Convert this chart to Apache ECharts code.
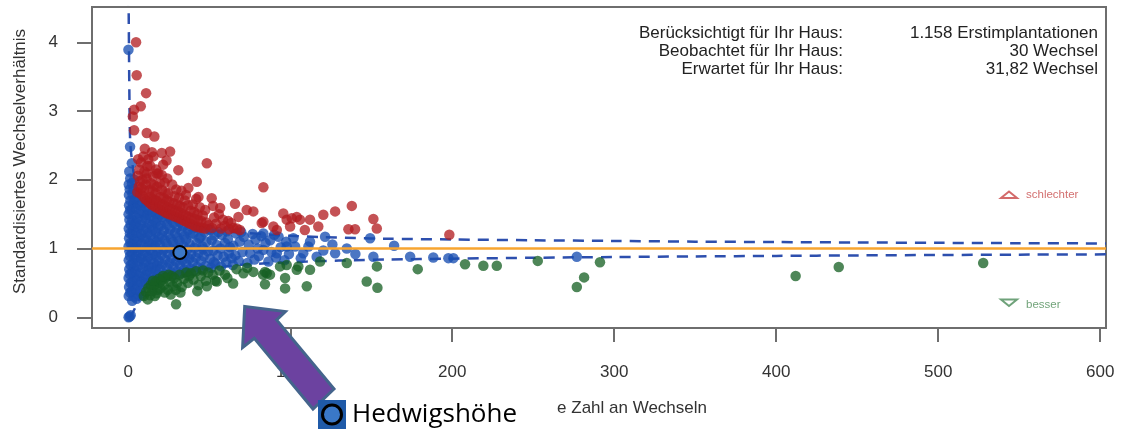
<!DOCTYPE html>
<html><head><meta charset="utf-8">
<script src="https://cdn.jsdelivr.net/npm/echarts@6/dist/echarts.min.js"></script>
<style>html,body{margin:0;padding:0;background:#fff}#c{width:1121px;height:432px}</style>
</head><body><div id="c"></div>
<script>
const xTicks = [0, 100, 200, 300, 400, 500, 600];
const yTicks = [0, 1, 2, 3, 4];
const xTitleVisible = 'e Zahl an Wechseln';
const yTitle = 'Standardisiertes Wechselverhältnis';
const infoLabels = ['Berücksichtigt für Ihr Haus:', 'Beobachtet für Ihr Haus:', 'Erwartet für Ihr Haus:'];
const infoValues = ['1.158 Erstimplantationen', '30 Wechsel', '31,82 Wechsel'];
const legendWorse = 'schlechter';
const legendBetter = 'besser';
const hospitalName = 'Hedwigshöhe';
const hospitalPoint = [[31.82, 0.943]];
const referenceValue = 1;

const upperLimit = [[0.15,4.7],[0.3,4.3],[0.5,3.7],[0.7,3.2],[0.9,2.8],[1.2,2.55],[1.6,2.42],[2.2,2.3],[3,2.15],[4,2.0],[5,1.88],[6.5,1.8],[8,1.73],[10,1.66],[13,1.6],[16,1.56],[20,1.51],[25,1.48],[30,1.45],[35,1.41],[40,1.36],[45,1.31],[50,1.28],[60,1.25],[70,1.23],[85,1.205],[100,1.185],[120,1.165],[140,1.152],[160,1.142],[200,1.132],[250,1.12],[300,1.11],[350,1.1],[400,1.094],[450,1.088],[500,1.083],[550,1.078],[603.6,1.074]];
const lowerLimit = [[0.3,0],[1.5,0.02],[3,0.08],[4.5,0.15],[6,0.22],[7.5,0.3],[9,0.36],[11,0.44],[13,0.49],[16,0.53],[20,0.57],[25,0.61],[30,0.64],[40,0.68],[50,0.71],[60,0.74],[70,0.765],[85,0.785],[100,0.8],[120,0.818],[140,0.83],[160,0.84],[200,0.852],[250,0.866],[300,0.876],[350,0.885],[400,0.893],[450,0.9],[500,0.906],[550,0.911],[603.6,0.915]];

const bluePoints = [
[0.2,0],[0.8,0.01],[1.5,0.03],[0.3,0.31],[1.2,0.36],[0.5,0.44],[1.4,0.5],[0.2,0.57],[1.0,0.63],[0.6,0.7],[1.5,0.76],[0.3,0.83],[1.1,0.89],[0.7,0.96],[0.2,1.03],[1.3,1.08],[0.5,1.15],[1.0,1.22],[0.3,1.29],[1.4,1.35],[0.7,1.42],[0.2,1.5],[1.1,1.56],[0.5,1.63],[1.3,1.7],[0.4,1.78],[0.9,1.86],[0.3,1.93],[1.2,2.02],[2.2,2.24],[1.1,2.48],[0.1,3.89],[0.6,2.12],
[2.4,0.24],[3.5,0.3],[2.1,0.38],[3.2,0.45],[2.7,0.52],[3.8,0.58],[2.3,0.65],[3.4,0.72],[2.8,0.79],[3.9,0.86],[2.2,0.93],[3.3,1.0],[2.6,1.07],[3.7,1.14],[2.4,1.21],[3.1,1.28],[3.9,1.35],[2.5,1.42],[3.4,1.49],[2.2,1.57],[3.0,1.64],[3.8,1.71],[2.6,1.79],[3.3,1.87],[2.3,1.95],[3.6,2.0],
[5.2,0.27],[6.5,0.33],[4.8,0.4],[6.0,0.47],[5.5,0.54],[6.8,0.6],[4.7,0.67],[5.9,0.74],[6.6,0.81],[5.1,0.88],[6.2,0.95],[4.9,1.02],[5.7,1.09],[6.9,1.16],[5.3,1.23],[6.4,1.3],[4.8,1.37],[5.8,1.44],[6.7,1.51],[5.0,1.58],[6.1,1.65],[4.6,1.73],[5.5,1.8],
[8.6,0.32],[7.6,0.39],[9.3,0.45],[8.2,0.52],[9.8,0.58],[7.8,0.65],[8.9,0.72],[9.6,0.79],[8.0,0.86],[9.1,0.93],[7.7,1.0],[8.5,1.07],[9.7,1.14],[8.1,1.21],[9.2,1.28],[7.9,1.35],[8.8,1.42],[9.9,1.49],[8.3,1.56],[7.6,1.63],[9.0,1.67],
[11.2,0.5],[12.6,0.55],[10.7,0.61],[11.9,0.68],[12.8,0.74],[11.0,0.81],[12.2,0.88],[10.6,0.95],[11.6,1.02],[12.9,1.08],[10.9,1.15],[12.0,1.22],[11.4,1.29],[12.7,1.36],[10.8,1.43],[11.8,1.5],[12.5,1.56],[11.1,1.61],
[14.5,0.53],[15.6,0.59],[13.8,0.65],[14.9,0.72],[15.9,0.79],[14.2,0.85],[15.3,0.92],[13.7,0.99],[14.8,1.06],[15.8,1.13],[14.0,1.2],[15.1,1.27],[14.6,1.34],[15.7,1.41],[13.9,1.48],[15.0,1.54],
[17.4,0.56],[18.6,0.62],[16.8,0.68],[17.9,0.75],[18.9,0.82],[17.1,0.89],[18.3,0.96],[16.6,1.03],[17.7,1.1],[18.8,1.17],[17.2,1.24],[18.4,1.31],[16.9,1.38],[18.0,1.45],[17.5,1.51],
[20.4,0.58],[22.1,0.63],[19.8,0.7],[21.3,0.77],[22.7,0.84],[20.6,0.91],[21.8,0.98],[19.7,1.05],[22.4,1.12],[20.9,1.19],[21.9,1.26],[20.2,1.33],[22.6,1.4],[21.2,1.46],[20.0,1.5],
[24.3,0.6],[26.2,0.66],[23.9,0.72],[25.4,0.79],[26.7,0.86],[24.6,0.93],[25.8,1.0],[23.7,1.07],[26.4,1.14],[24.9,1.21],[25.9,1.28],[24.1,1.35],[26.5,1.42],[25.1,1.47],
[28.4,0.62],[30.1,0.67],[27.8,0.74],[29.5,0.81],[30.7,0.88],[28.6,0.95],[29.8,1.02],[27.7,1.09],[30.4,1.16],[28.9,1.23],[29.9,1.3],[28.1,1.37],[30.5,1.43],
[32.6,0.64],[34.4,0.69],[31.9,0.76],[33.5,0.83],[34.8,0.9],[32.3,0.97],[33.9,1.04],[31.7,1.11],[34.6,1.18],[32.9,1.25],[33.8,1.32],[32.2,1.38],
[36.4,0.66],[38.3,0.71],[35.8,0.78],[37.5,0.85],[38.8,0.92],[36.6,0.99],[37.9,1.06],[35.7,1.13],[38.4,1.2],[36.9,1.27],[37.8,1.33],
[40.5,0.68],[42.6,0.73],[39.9,0.8],[41.7,0.87],[43.4,0.94],[40.8,1.01],[42.2,1.08],[43.8,1.15],[40.2,1.22],[42.9,1.29],[41.4,1.31],
[45.5,0.7],[47.8,0.75],[44.9,0.82],[46.6,0.89],[49.2,0.96],[45.8,1.03],[48.3,1.1],[44.7,1.17],[47.1,1.24],[49.5,1.28],[46.2,0.99],
[51.2,0.72],[53.8,0.78],[50.6,0.85],[55.1,0.9],[52.4,0.97],[54.6,1.05],[51.5,1.12],[53.2,1.19],[55.6,1.24],[50.9,1.27],[52.8,0.8],
[57.3,0.74],[60.4,0.8],[58.8,0.88],[62.1,0.93],[56.9,1.0],[59.7,1.08],[61.5,1.14],[57.8,1.2],[60.9,1.25],[62.7,1.02],
[64.6,0.76],[68.2,0.82],[66.1,0.9],[70.5,0.95],[64.9,1.04],[68.8,1.1],[71.3,1.17],[66.4,1.22],[69.7,1.24],[63.8,0.86],
[73.5,0.79],[77.9,0.84],[75.2,0.93],[80.6,0.89],[83.4,0.98],[74.3,1.06],[78.6,1.13],[82.1,1.18],[76.8,1.21],[84.7,1.08],[79.9,1.0],[83.4,1.22],
[86.5,0.81],[91.2,0.87],[96.4,0.83],[88.3,0.95],[94.1,1.02],[99.2,0.92],[87.6,1.12],[92.8,1.17],[97.5,1.1],[90.1,1.2],[91.7,0.93],[97.8,1.03],
[101.9,1.15],[111.2,1.03],[112.2,1.1],[103,1.03],[108,0.93],[127.7,0.93],[120.4,0.97],[121.5,1.17],[134.9,1.0],[149.3,1.15],[151.3,0.88],[106.5,0.86],[116.3,0.88],[140.2,0.92],[126,1.06],[164.1,1.04],
[174,0.88],[188.3,0.87],[197.6,0.86],[200.7,0.86],[276.9,0.88]
];

const redPoints = [
[4.8,4.0],[5.2,3.52],[11,3.26],[7.7,3.07],[3.6,3.02],[2.8,2.92],[3.6,2.72],[11.4,2.68],[16.1,2.63],[20.7,2.39],[25.8,2.41],[9.3,2.34],[15.5,2.34],[48.5,2.24],[30.9,2.14],[18.6,2.09],[20.7,2.07],[83.4,1.89],[42.3,1.97],[37.1,1.88],[43.3,1.75],[51.5,1.73],[65.9,1.65],[138,1.62],[127.7,1.54],[120.4,1.49],[95.7,1.51],[100.9,1.44],[106,1.42],[83.4,1.39],[151.3,1.43],[153.4,1.29],[135.9,1.28],[140,1.28],[198.2,1.2],[56.7,1.59],[73.1,1.56],[77.2,1.54],[82.4,1.37],[89.6,1.32],[67,1.29],[97.8,1.42],[68,1.46],[109,1.27],[117.3,1.32],[99.9,1.32],[91.7,1.27],[112.2,1.42],[104,1.46],[11.4,2.09],[17.6,2.09],
[5.6,1.82],[6.4,1.9],[7.2,1.98],[5.9,2.06],[7.5,1.8],[6.8,2.15],[7.9,2.25],[6.1,2.3],[8.3,1.88],
[9.1,1.76],[10.4,1.72],[11.6,1.7],[9.6,1.85],[10.9,1.93],[8.8,2.0],[11.3,2.02],[9.9,2.12],[11.8,2.2],[10.2,2.45],[12.3,2.3],
[12.9,1.67],[14.2,1.64],[15.6,1.62],[17.1,1.6],[13.5,1.75],[14.9,1.72],[16.3,1.71],[17.6,1.69],[13.2,1.85],[15.1,1.83],[16.9,1.8],[14.0,1.95],[16.0,1.92],[17.8,1.9],[15.3,2.05],[13.6,2.2],[17.2,2.15],[14.6,2.4],
[18.7,1.58],[20.2,1.56],[21.8,1.54],[23.3,1.52],[24.9,1.5],[19.3,1.66],[21.1,1.64],[22.7,1.62],[24.3,1.6],[25.8,1.58],[19.9,1.75],[22.1,1.73],[23.9,1.7],[25.4,1.68],[20.8,1.85],[23.0,1.82],[24.7,1.8],[19.5,1.95],[22.4,1.96],[21.5,2.22],[24.1,2.02],[23.6,2.28],
[26.6,1.49],[28.2,1.47],[29.8,1.46],[31.4,1.44],[33.1,1.42],[34.7,1.4],[27.3,1.57],[29.1,1.55],[30.8,1.54],[32.5,1.52],[34.2,1.5],[35.8,1.48],[27.9,1.66],[30.2,1.64],[32.0,1.62],[33.8,1.6],[28.6,1.76],[31.3,1.74],[34.9,1.7],[29.6,1.86],[32.8,1.84],[27.1,1.93],[35.6,1.78],
[36.5,1.38],[38.2,1.36],[40.0,1.34],[41.8,1.32],[43.6,1.31],[45.4,1.3],[47.3,1.29],[37.3,1.46],[39.3,1.44],[41.2,1.43],[43.2,1.41],[45.1,1.4],[48.1,1.38],[38.6,1.55],[40.7,1.53],[42.8,1.5],[46.0,1.48],[39.8,1.64],[44.2,1.6],[47.5,1.56],[41.9,1.72],[36.8,1.63],[49.6,1.34],
[51.8,1.3],[54.1,1.36],[57.2,1.29],[59.5,1.33],[62.3,1.28],[64.8,1.3],[53.0,1.45],[58.4,1.42],[61.7,1.4],[55.9,1.5],[63.5,1.37],[68.9,1.27],[52.3,1.62]
];

const greenPoints = [
[9.6,0.31],[11.0,0.37],[12.4,0.43],[13.6,0.32],[12.0,0.26],[13.9,0.47],
[14.8,0.38],[15.9,0.46],[17.0,0.52],[18.2,0.4],[19.4,0.5],[16.4,0.31],[18.9,0.56],[15.3,0.53],[17.6,0.35],[19.8,0.42],
[20.6,0.54],[21.9,0.47],[23.1,0.58],[24.4,0.4],[25.7,0.52],[26.9,0.6],[22.5,0.36],[27.6,0.45],[21.4,0.6],[24.9,0.62],[26.2,0.33],
[28.5,0.57],[29.5,0.19],[30.2,0.5],[31.6,0.62],[33.0,0.44],[34.4,0.56],[35.8,0.65],[32.2,0.36],[36.9,0.5],[37.5,0.6],[29.4,0.4],
[38.8,0.64],[40.3,0.55],[41.9,0.67],[43.4,0.47],[44.8,0.6],[46.2,0.68],[47.9,0.53],[48.5,0.45],[49.3,0.65],[42.6,0.38],
[52.1,0.62],[54.6,0.52],[56.3,0.68],[59.8,0.62],[61.2,0.57],[64.7,0.49],[66.8,0.7],[71.1,0.64],[73.4,0.72],[53.6,0.53],
[77.2,0.66],[83.2,0.62],[84.4,0.48],[85.5,0.64],[87.5,0.62],[84.4,0.66],[93.7,0.74],[96.8,0.42],[96.8,0.57],[97.8,0.76],[104,0.69],[105,0.74],[110.2,0.45],[112.2,0.69],[118.4,0.81],[134.9,0.79],[147.2,0.52],[153.5,0.74],[153.8,0.43],
[178.7,0.70],[207.9,0.77],[219.2,0.75],[227.5,0.75],[252.8,0.82],[276.9,0.44],[281.4,0.58],[291.2,0.80],[412,0.60],[438.6,0.73],[527.8,0.79]
];

const FONT = 'Liberation Sans, Arial, sans-serif';
const chart = echarts.init(document.getElementById('c'), null, {renderer: 'canvas'});

const infoGraphics = [];
infoLabels.forEach((t, i) => {
  infoGraphics.push({type: 'text', x: 843, y: 33.5 + i * 17.8, z: 50,
    style: {text: t, fill: '#222', font: '17px ' + FONT, textAlign: 'right', textVerticalAlign: 'middle'}});
  infoGraphics.push({type: 'text', x: 1098, y: 33.5 + i * 17.8, z: 50,
    style: {text: infoValues[i], fill: '#222', font: '17px ' + FONT, textAlign: 'right', textVerticalAlign: 'middle'}});
});

const scatterBase = {type: 'scatter', symbol: 'circle', symbolSize: 10.5, silent: true};

chart.setOption({
  animation: false,
  backgroundColor: '#fff',
  grid: {left: 92, top: 7, right: 15, bottom: 104, show: true, borderColor: '#6e6e6e', borderWidth: 2, backgroundColor: 'transparent'},
  xAxis: {
    type: 'value', min: -22.4, max: 603.6,
    axisLine: {show: false, onZero: false},
    splitLine: {show: false},
    axisTick: {show: true, inside: false, length: 14, customValues: xTicks, lineStyle: {color: '#6e6e6e', width: 2}},
    axisLabel: {show: true, customValues: xTicks, margin: 36, fontSize: 17, color: '#333', fontFamily: FONT}
  },
  yAxis: {
    type: 'value', min: -0.156, max: 4.513,
    name: yTitle, nameLocation: 'middle', nameGap: 63, nameRotate: 90,
    nameTextStyle: {fontSize: 17, color: '#333', fontFamily: FONT, padding: [0, 0, 0, 12]},
    axisLine: {show: false, onZero: false},
    splitLine: {show: false},
    axisTick: {show: true, inside: false, length: 15, customValues: yTicks, lineStyle: {color: '#6e6e6e', width: 2}},
    axisLabel: {show: true, customValues: yTicks, margin: 34, fontSize: 17, color: '#333', fontFamily: FONT}
  },
  series: [
    {type: 'line', data: upperLimit, symbol: 'none', smooth: 0.3, z: 1, silent: true,
     lineStyle: {color: '#2d4fae', width: 2.5, type: [11, 8]},
     markLine: {silent: true, symbol: ['none', 'none'], label: {show: false},
       lineStyle: {color: '#f7a530', width: 2.5, type: 'solid'}, data: [{yAxis: referenceValue}]}},
    {type: 'line', data: lowerLimit, symbol: 'none', smooth: 0.3, z: 1, silent: true,
     lineStyle: {color: '#2d4fae', width: 2.5, type: [11, 8]}},
    Object.assign({}, scatterBase, {data: bluePoints, z: 3, itemStyle: {color: 'rgb(26,80,178)', opacity: 0.78}}),
    Object.assign({}, scatterBase, {data: redPoints, z: 4, itemStyle: {color: 'rgb(178,28,32)', opacity: 0.76}}),
    Object.assign({}, scatterBase, {data: greenPoints, z: 4, itemStyle: {color: 'rgb(22,96,36)', opacity: 0.76}}),
    {type: 'scatter', data: hospitalPoint, symbol: 'circle', symbolSize: 13, z: 6, silent: true,
     itemStyle: {color: '#3c78c8', borderColor: '#000', borderWidth: 2, opacity: 1}}
  ],
  graphic: infoGraphics.concat([
    {type: 'polygon', z: 50, shape: {points: [[1001,198],[1017,198],[1009,191.5]]}, style: {fill: 'none', stroke: '#d36b6b', lineWidth: 2}},
    {type: 'text', x: 1026, y: 194.5, z: 50, style: {text: legendWorse, fill: '#d37070', font: '11.5px ' + FONT, textVerticalAlign: 'middle'}},
    {type: 'polygon', z: 50, shape: {points: [[1001,299.5],[1017,299.5],[1009,306]]}, style: {fill: 'none', stroke: '#6fa27a', lineWidth: 2}},
    {type: 'text', x: 1026, y: 305, z: 50, style: {text: legendBetter, fill: '#72a47a', font: '11.5px ' + FONT, textVerticalAlign: 'middle'}},
    {type: 'text', x: 707, y: 408, z: 50, style: {text: xTitleVisible, fill: '#333', font: '17px ' + FONT, textAlign: 'right', textVerticalAlign: 'middle'}},
    {type: 'polygon', z: 100, shape: {points: [[244.7,306.5],[285.4,311.5],[276.6,319.9],[334,389],[313,409],[254.3,338.4],[242.6,347.5]]},
     style: {fill: '#6c42a0', stroke: '#44648c', lineWidth: 3, lineJoin: 'miter'}},
    {type: 'rect', z: 100, shape: {x: 318, y: 400, width: 28, height: 29}, style: {fill: '#1f5aa8'}},
    {type: 'circle', z: 101, shape: {cx: 332, cy: 414.5, r: 9.5}, style: {fill: '#3a78c8', stroke: '#000', lineWidth: 3}},
    {type: 'text', x: 352, y: 415, z: 101, style: {text: hospitalName, fill: '#000', font: '26px Open Sans, Lato, sans-serif', textVerticalAlign: 'middle'}}
  ])
});
</script>
</body></html>
